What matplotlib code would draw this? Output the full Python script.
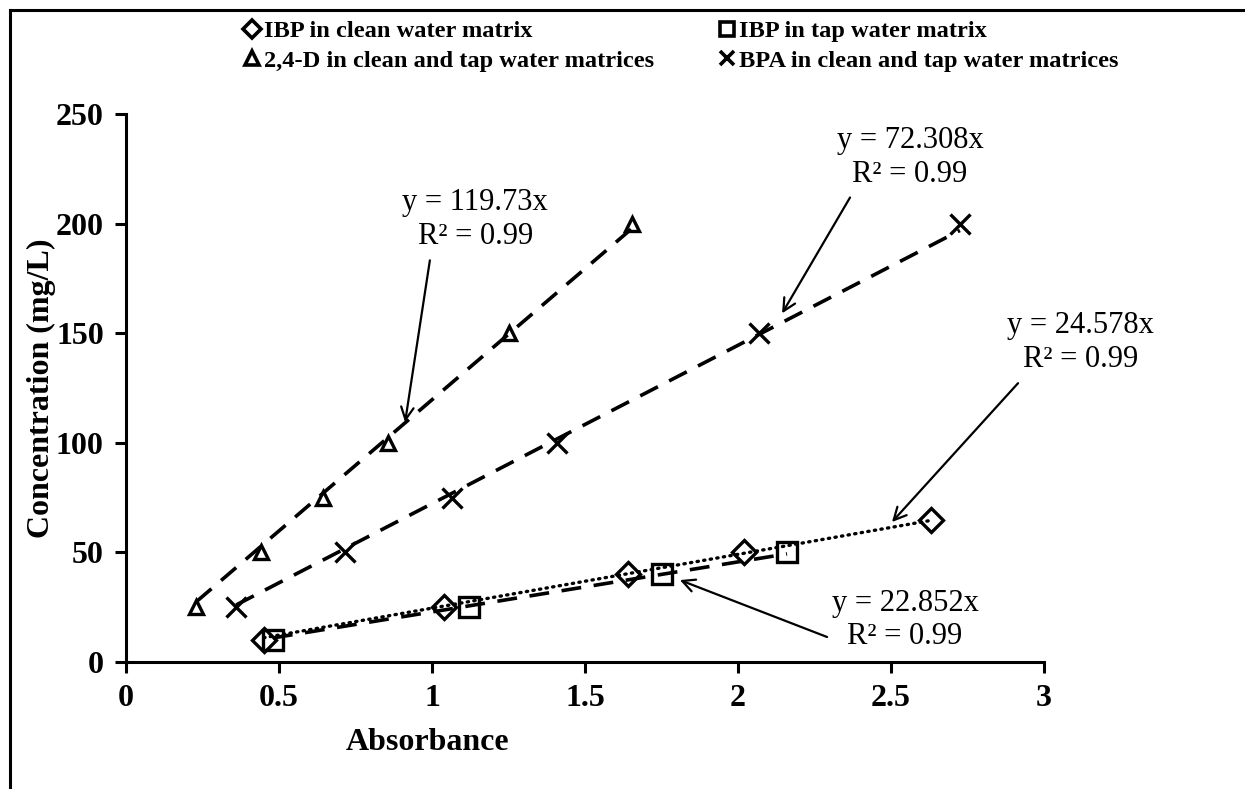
import matplotlib
matplotlib.use("Agg")
import matplotlib.pyplot as plt
from matplotlib.lines import Line2D
import numpy as np

plt.rcParams['font.family'] = ['Liberation Serif', 'DejaVu Serif']

# valores
conc_ibp = [10, 25, 40, 50, 65]
abs_ibp_clean = [0.45, 1.04, 1.64, 2.02, 2.63]
conc_ibp_tap = [10, 25, 40, 50]
abs_ibp_tap = [0.48, 1.12, 1.75, 2.16]
conc_24d_bpa = [25, 50, 75, 100, 150, 200]
abs_24d = [0.23, 0.44, 0.645, 0.855, 1.25, 1.655]
abs_bpa = [0.36, 0.715, 1.065, 1.41, 2.07, 2.725]

slope_ibp_clean = 24.578
slope_ibp_tap = 22.852
slope_24d = 119.73
slope_bpa = 72.308

x_ticks = [0, 0.5, 1, 1.5, 2, 2.5, 3]
x_tick_labels = ['0', '0.5', '1', '1.5', '2', '2.5', '3']
y_ticks = [0, 50, 100, 150, 200, 250]

fig = plt.figure(figsize=(12.45, 7.89), dpi=100)
ax = fig.add_axes([0.1012, 0.161, 0.7374, 0.6939])

mk = dict(color='k', markerfacecolor='none', markeredgecolor='k', markeredgewidth=2.4, linestyle='none')

# lineas de tendencia (pasan por el origen)
def trend(xs, m, **kw):
    xx = np.array([min(xs), max(xs)])
    ax.plot(xx, m * xx, color='k', **kw)

trend(abs_24d, slope_24d, lw=2.6, dashes=(5.5, 3.5))
trend(abs_bpa, slope_bpa, lw=2.6, dashes=(5.5, 3.5))
trend(abs_ibp_tap, slope_ibp_tap, lw=2.6, dashes=(5.5, 3.5))
trend(abs_ibp_clean, slope_ibp_clean, lw=2.4, dashes=(0.4, 1.6), dash_capstyle='round')

h1, = ax.plot(abs_ibp_clean, conc_ibp, marker='D', markersize=12.5, label='IBP in clean water matrix', **mk)
h3, = ax.plot(abs_ibp_tap, conc_ibp_tap, marker='s', markersize=14, label='IBP in tap water matrix', **mk)
h2, = ax.plot(abs_24d, conc_24d_bpa, marker='^', markersize=10, label='2,4-D in clean and tap water matrices', **mk)
h4, = ax.plot(abs_bpa, conc_24d_bpa, marker='x', markersize=14, label='BPA in clean and tap water matrices', **mk)

ax.set_xlim(0, 3)
ax.set_ylim(0, 250)
ax.set_xticks(x_ticks)
ax.set_xticklabels(x_tick_labels)
ax.set_yticks(y_ticks)
for s in ['top', 'right']:
    ax.spines[s].set_visible(False)
for s in ['left', 'bottom']:
    ax.spines[s].set_linewidth(2.2)
ax.tick_params(direction='out', length=8, width=2.2, labelsize=23, pad=8)
for lab in ax.get_xticklabels() + ax.get_yticklabels():
    lab.set_fontweight('bold')

ax.set_xlabel('Absorbance', fontsize=23, fontweight='bold')
ax.xaxis.set_label_coords(0.328, -0.12)
ax.set_ylabel('Concentration (mg/L)', fontsize=23, fontweight='bold')
ax.yaxis.set_label_coords(-0.076, 0.5)

# ecuaciones y flechas
notas = [
    ('y = 119.73x\nR² = 0.99', (1.141, 202.0), (0.993, 183.4), (0.912, 109.5)),
    ('y = 72.308x\nR² = 0.99', (2.562, 230.2), (2.366, 212.1), (2.144, 159.2)),
    ('y = 24.578x\nR² = 0.99', (3.118, 145.8), (2.915, 127.3), (2.503, 63.9)),
    ('y = 22.852x\nR² = 0.99', (2.546, 19.2), (2.291, 11.4), (1.810, 37.4)),
]
for txt, pos, tail, tip in notas:
    ax.text(pos[0], pos[1], txt, fontsize=22, ha='center', va='center', linespacing=1.22, clip_on=False)
    ax.annotate('', xy=tip, xytext=tail, annotation_clip=False,
                arrowprops=dict(arrowstyle='->,head_length=0.9,head_width=0.45', lw=1.6, color='k',
                                shrinkA=0, shrinkB=0))

leg = fig.legend(handles=[h1, h2, h3, h4], loc='center', bbox_to_anchor=(0.547, 0.942), ncol=2,
                 frameon=False, handlelength=0.7, handletextpad=0.15, columnspacing=2.6,
                 labelspacing=0.3, prop={'weight': 'bold', 'size': 17.6})
for hh in leg.legend_handles:
    hh.set_markersize(9.5)
    hh.set_markeredgewidth(2.6)

# borde del recuadro (solo arriba e izquierda, el resto recortado)
fig.add_artist(Line2D([10 / 1245, 10 / 1245], [0, 1 - 10 / 789], color='k', lw=2.2, transform=fig.transFigure))
fig.add_artist(Line2D([10 / 1245, 1], [1 - 10 / 789, 1 - 10 / 789], color='k', lw=2.2, transform=fig.transFigure))

fig.savefig('out.png', dpi=100)
